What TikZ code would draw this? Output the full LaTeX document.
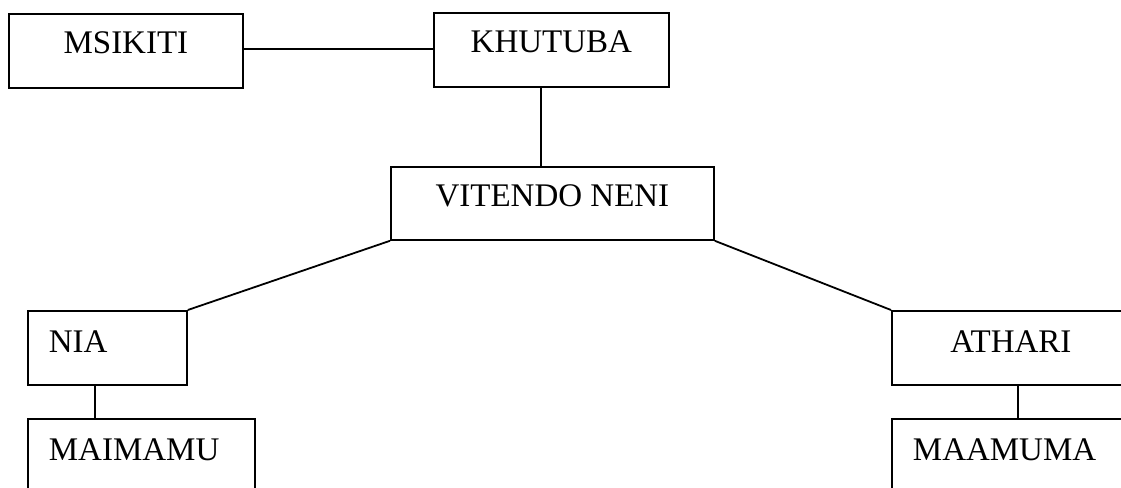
\documentclass[tikz,border=0pt]{standalone}
\usepackage{fontspec}
\setmainfont{Liberation Serif}
\begin{document}
\begin{tikzpicture}[x=1pt,y=-1pt,
  box/.style={draw, line width=1.8pt, anchor=north west, inner ysep=0pt,
    text height=40pt, text depth=34pt, font=\fontsize{33}{36}\selectfont},
  lbox/.style={box, inner xsep=21pt, align=left},
  link/.style={line width=1.8pt}]
\useasboundingbox (0,0) rectangle (1121,487);
\clip (0,0) rectangle (1121,487);
\node[box, minimum width=234pt] (msikiti) at (8,13) {MSIKITI};
\node[box, minimum width=235pt] (khutuba) at (433,12) {KHUTUBA};
\node[box, minimum width=323pt, text depth=33pt] (vitendo) at (390,166) {VITENDO NENI};
\node[lbox, text width=117pt, text height=42pt, text depth=32pt] (nia) at (27,310) {NIA};
\node[lbox, text width=185pt, text height=42pt, text depth=90pt] (maimamu) at (27,418) {MAIMAMU};
\node[box, minimum width=238pt, text height=42pt, text depth=32pt] (athari) at (891,310) {ATHARI};
\node[lbox, text width=218pt, text height=42pt, text depth=90pt] (maamuma) at (891,418) {MAAMUMA};
\draw[link] ([yshift=2pt]msikiti.east) -- ([yshift=2pt]msikiti.east -| khutuba.west);
\draw[link] ([xshift=-10.5pt]khutuba.south) -- ([xshift=-10.5pt]khutuba.south |- vitendo.north);
\draw[link] (vitendo.south west) -- (nia.north east);
\draw[link] (vitendo.south east) -- (athari.north west);
\draw[link] ([xshift=-12.5pt]nia.south) -- ([xshift=-12.5pt]nia.south |- maimamu.north);
\draw[link] ([xshift=7pt]athari.south) -- ([xshift=7pt]athari.south |- maamuma.north);
\end{tikzpicture}
\end{document}
